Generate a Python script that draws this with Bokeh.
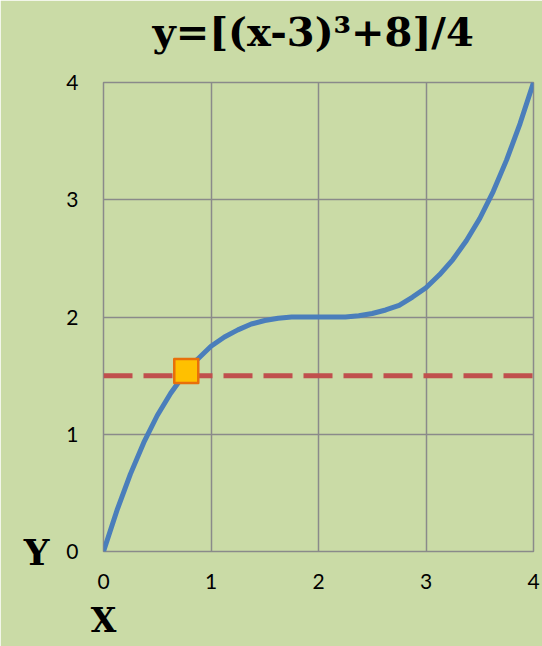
from bokeh.plotting import figure
from bokeh.models import FixedTicker, Range1d, LinearAxis
from bokeh.embed import file_html
from bokeh.resources import INLINE

# Curve points
curve_x = [0.0, 0.125, 0.25, 0.375, 0.5, 0.625, 0.75, 0.875, 1.0, 1.125, 1.25, 1.375, 1.5,
           1.625, 1.75, 1.875, 2.0, 2.125, 2.25, 2.375, 2.5, 2.625, 2.75, 2.875, 3.0,
           3.125, 3.25, 3.375, 3.5, 3.625, 3.75, 3.875, 4.0]
curve_y = [0.0, 0.35, 0.66, 0.93, 1.16, 1.35, 1.51, 1.64, 1.75, 1.83, 1.89, 1.94, 1.97,
           1.99, 2.0, 2.0, 2.0, 2.0, 2.0, 2.01, 2.03, 2.06, 2.1, 2.17, 2.25,
           2.36, 2.49, 2.65, 2.84, 3.07, 3.34, 3.65, 4.0]

# Horizontal dashed level line
level_x = [0.0, 4.0]
level_y = [1.5, 1.5]

# Highlighted point
point_x = [0.77]
point_y = [1.54]

x_ticks = [0, 1, 2, 3, 4]
y_ticks = [0, 1, 2, 3, 4]

title_text = "y=[(x-3)³+8]/4"
title_x = 1.95
x_label = "X"
y_label = "Y"

BG = "#cadba6"
SERIF = "DejaVu Serif"

p = figure(width=542, height=646, output_backend="svg", toolbar_location=None,
           x_range=Range1d(0, 4), y_range=Range1d(0, 4),
           min_border_left=103, min_border_right=9, min_border_top=82, min_border_bottom=95)
p.background_fill_color = BG
p.border_fill_color = BG
p.outline_line_color = "#8a8a8a"
p.outline_line_width = 1.5

for ax in (p.xaxis, p.yaxis):
    ax.axis_line_color = None
    ax.major_tick_line_color = None
    ax.minor_tick_line_color = None
    ax.major_tick_out = 0
    ax.major_tick_in = 0
    ax.major_label_text_font = "Lato"
    ax.major_label_text_font_size = "21px"
    ax.major_label_text_color = "#000000"
p.xaxis.ticker = FixedTicker(ticks=x_ticks)
p.yaxis.ticker = FixedTicker(ticks=y_ticks)
p.xaxis.major_label_standoff = 22
p.yaxis.major_label_standoff = 25

# Extra axes carrying the title and the "X" / "Y" labels
def label_axis(tick, text, size, standoff):
    ax = LinearAxis(ticker=FixedTicker(ticks=[tick]), major_label_overrides={tick: text})
    ax.axis_line_color = None
    ax.major_tick_line_color = None
    ax.minor_tick_line_color = None
    ax.major_tick_out = 0
    ax.major_tick_in = 0
    ax.major_label_text_font = SERIF
    ax.major_label_text_font_style = "bold"
    ax.major_label_text_font_size = size
    ax.major_label_text_color = "#000000"
    ax.major_label_standoff = standoff
    return ax

p.add_layout(label_axis(title_x, title_text, "40px", 28), "above")
p.add_layout(label_axis(0, y_label, "36px", 14), "left")
p.add_layout(label_axis(0, x_label, "33px", 9), "below")

p.xgrid.ticker = FixedTicker(ticks=x_ticks)
p.ygrid.ticker = FixedTicker(ticks=y_ticks)
for g in (p.xgrid, p.ygrid):
    g.grid_line_color = "#8a8a8a"
    g.grid_line_width = 1.5

p.line(level_x, level_y, line_color="#c0504d", line_width=5, line_dash="29 11")
p.line(curve_x, curve_y, line_color="#4a7ebb", line_width=5, line_join="round")
p.scatter(point_x, point_y, marker="square", size=24, fill_color="#ffc000",
          line_color="#e8700a", line_width=2.5, line_join="round")

open("out.html", "w").write(file_html(p, INLINE))
